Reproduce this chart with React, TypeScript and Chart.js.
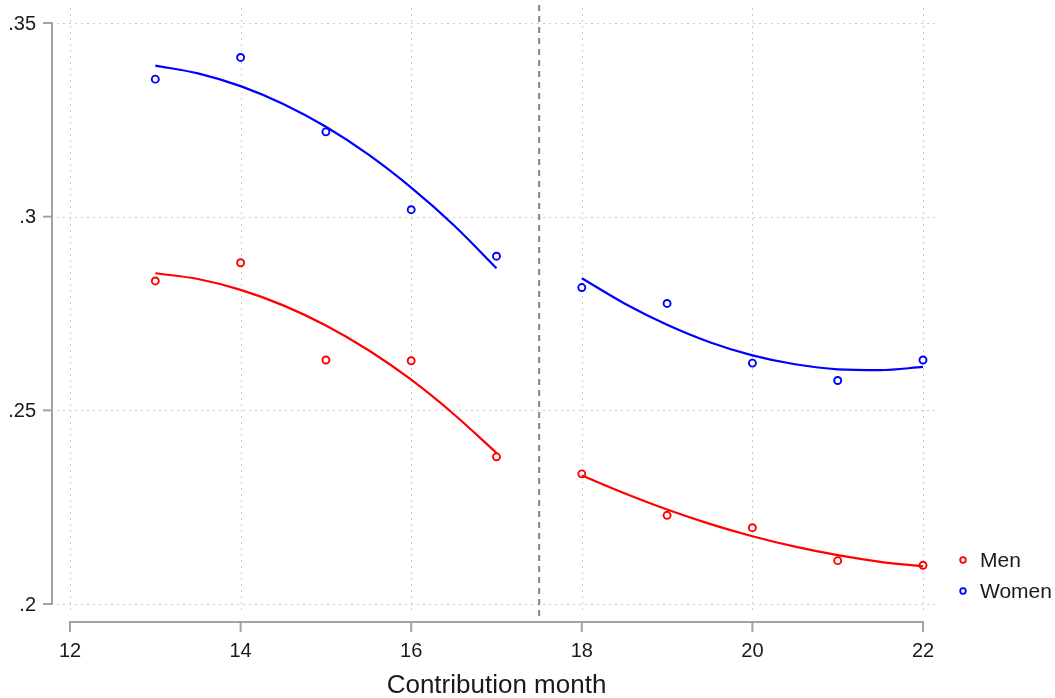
import { useEffect, useRef } from 'react';
import { Chart, registerables } from 'chart.js';

Chart.register(...registerables);

// ---- data ----
const months = [13, 14, 15, 16, 17, 18, 19, 20, 21, 22];
const menShare = [0.2834, 0.2881, 0.2630, 0.2628, 0.2380, 0.2336, 0.2229, 0.2197, 0.2112, 0.2100];
const womenShare = [0.3355, 0.3411, 0.3219, 0.3018, 0.2898, 0.2817, 0.2776, 0.2622, 0.2577, 0.2630];

const fitMonthsPre = [13, 13.5, 14, 14.5, 15, 15.5, 16, 16.5, 17];
const fitMonthsPost = [18, 18.5, 19, 19.5, 20, 20.5, 21, 21.5, 22];
const womenFitPre = [0.3390, 0.3370, 0.3337, 0.3291, 0.3232, 0.3160, 0.3075, 0.2978, 0.2867];
const menFitPre = [0.2854, 0.2839, 0.2811, 0.2771, 0.2719, 0.2655, 0.2579, 0.2490, 0.2390];
const womenFitPost = [0.2841, 0.2776, 0.2721, 0.2676, 0.2642, 0.2619, 0.2606, 0.2604, 0.2612];
const menFitPost = [0.2332, 0.2286, 0.2244, 0.2207, 0.2175, 0.2148, 0.2126, 0.2109, 0.2097];

const xTickValues = [12, 14, 16, 18, 20, 22];
const xTickLabels = ['12', '14', '16', '18', '20', '22'];
const yTickValues = [0.2, 0.25, 0.3, 0.35];
const yTickLabels = ['.2', '.25', '.3', '.35'];
const cutoffMonth = 17.5;
const xTitle = 'Contribution month';
const seriesNames = ['Men', 'Women'];
const seriesColors = ['#ff0000', '#0000ff'];

const FONT = '"Liberation Sans", Arial, Helvetica, sans-serif';
const TEXT = '#1a1a1a';
const AXIS = '#a3a3a3';
const GRID = '#cccccc';

const pts = (xs: number[], ys: number[]) => xs.map((x, i) => ({ x, y: ys[i] }));

const stataPlugin = {
  id: 'stataStyle',
  beforeDatasetsDraw(chart: any) {
    const { ctx, chartArea, scales } = chart;
    const xs = scales.x;
    const ys = scales.y;
    ctx.save();
    ctx.strokeStyle = GRID;
    ctx.lineWidth = 1;
    ctx.setLineDash([2, 4]);
    for (const v of xTickValues) {
      const px = Math.round(xs.getPixelForValue(v)) + 0.5;
      ctx.beginPath();
      ctx.moveTo(px, chartArea.top + 2);
      ctx.lineTo(px, chartArea.bottom);
      ctx.stroke();
    }
    for (const v of yTickValues) {
      const py = Math.round(ys.getPixelForValue(v)) + 0.5;
      ctx.beginPath();
      ctx.moveTo(chartArea.left, py);
      ctx.lineTo(chartArea.right, py);
      ctx.stroke();
    }
    // cutoff dashed line
    const axisY = chartArea.bottom + 8;
    const cx = xs.getPixelForValue(cutoffMonth);
    ctx.strokeStyle = '#858585';
    ctx.lineWidth = 2;
    ctx.setLineDash([6, 5]);
    ctx.beginPath();
    ctx.moveTo(cx, chartArea.top - 1);
    ctx.lineTo(cx, axisY);
    ctx.stroke();
    ctx.restore();
  },
  afterDraw(chart: any) {
    const { ctx, chartArea, scales } = chart;
    const xs = scales.x;
    const ys = scales.y;
    const axisX = chartArea.left - 5;
    const axisY = chartArea.bottom + 8;
    ctx.save();
    ctx.setLineDash([]);
    ctx.strokeStyle = AXIS;
    ctx.lineWidth = 2;
    // y axis
    const yTop = ys.getPixelForValue(yTickValues[yTickValues.length - 1]);
    const yBot = ys.getPixelForValue(yTickValues[0]);
    ctx.beginPath();
    ctx.moveTo(axisX, yTop - 1);
    ctx.lineTo(axisX, yBot + 1);
    ctx.stroke();
    for (const v of yTickValues) {
      const py = ys.getPixelForValue(v);
      ctx.beginPath();
      ctx.moveTo(axisX - 9, py);
      ctx.lineTo(axisX, py);
      ctx.stroke();
    }
    // x axis
    const xL = xs.getPixelForValue(xTickValues[0]);
    const xR = xs.getPixelForValue(xTickValues[xTickValues.length - 1]);
    ctx.beginPath();
    ctx.moveTo(xL - 1, axisY);
    ctx.lineTo(xR + 1, axisY);
    ctx.stroke();
    for (const v of xTickValues) {
      const px = xs.getPixelForValue(v);
      ctx.beginPath();
      ctx.moveTo(px, axisY);
      ctx.lineTo(px, axisY + 10);
      ctx.stroke();
    }
    // labels
    ctx.fillStyle = TEXT;
    ctx.font = `20px ${FONT}`;
    ctx.textAlign = 'right';
    ctx.textBaseline = 'middle';
    yTickValues.forEach((v, i) => {
      ctx.fillText(yTickLabels[i], axisX - 16, ys.getPixelForValue(v) + 1);
    });
    ctx.textAlign = 'center';
    xTickValues.forEach((v, i) => {
      ctx.fillText(xTickLabels[i], xs.getPixelForValue(v), axisY + 29);
    });
    ctx.font = `26px ${FONT}`;
    ctx.textBaseline = 'alphabetic';
    ctx.fillText(xTitle, (xL + xR) / 2, 693);
    // legend
    ctx.font = `21px ${FONT}`;
    ctx.textAlign = 'left';
    ctx.textBaseline = 'middle';
    const lx = 963;
    const lys = [560, 591];
    seriesNames.forEach((name, i) => {
      ctx.strokeStyle = seriesColors[i];
      ctx.lineWidth = 1.8;
      ctx.beginPath();
      ctx.arc(lx, lys[i], 2.8, 0, Math.PI * 2);
      ctx.stroke();
      ctx.fillStyle = TEXT;
      ctx.fillText(name, 980, lys[i] + 1);
    });
    ctx.restore();
  },
};

export default function App() {
  const ref = useRef<HTMLCanvasElement | null>(null);
  useEffect(() => {
    if (!ref.current) return;
    const scatterStyle = (color: string) => ({
      showLine: false,
      pointRadius: 3.5,
      pointBorderWidth: 1.9,
      pointBackgroundColor: '#ffffff',
      pointBorderColor: color,
      borderColor: color,
    });
    const lineStyle = (color: string) => ({
      showLine: true,
      pointRadius: 0,
      borderWidth: 2.2,
      borderColor: color,
      cubicInterpolationMode: 'monotone',
      fill: false,
    });
    const chart = new Chart(ref.current, {
      type: 'scatter',
      data: {
        datasets: [
          { label: 'Women fit pre', data: pts(fitMonthsPre, womenFitPre), ...lineStyle(seriesColors[1]) },
          { label: 'Men fit pre', data: pts(fitMonthsPre, menFitPre), ...lineStyle(seriesColors[0]) },
          { label: 'Women fit post', data: pts(fitMonthsPost, womenFitPost), ...lineStyle(seriesColors[1]) },
          { label: 'Men fit post', data: pts(fitMonthsPost, menFitPost), ...lineStyle(seriesColors[0]) },
          { label: seriesNames[0], data: pts(months, menShare), ...scatterStyle(seriesColors[0]) },
          { label: seriesNames[1], data: pts(months, womenShare), ...scatterStyle(seriesColors[1]) },
        ],
      } as any,
      options: {
        animation: false,
        responsive: false,
        maintainAspectRatio: false,
        layout: { padding: { left: 57, right: 120, top: 6, bottom: 84 } },
        scales: {
          x: { type: 'linear', min: 11.8476, max: 22.1407, display: false },
          y: { type: 'linear', min: 0.19742, max: 0.35439, display: false },
        },
        plugins: {
          legend: { display: false },
          tooltip: { enabled: false },
        },
      },
      plugins: [stataPlugin],
    });
    return () => chart.destroy();
  }, []);
  return (
    <div style={{ position: 'fixed', left: 0, top: 0, width: 1055, height: 698, background: '#ffffff' }}>
      <canvas ref={ref} width={1055} height={698} style={{ display: 'block' }} />
    </div>
  );
}
